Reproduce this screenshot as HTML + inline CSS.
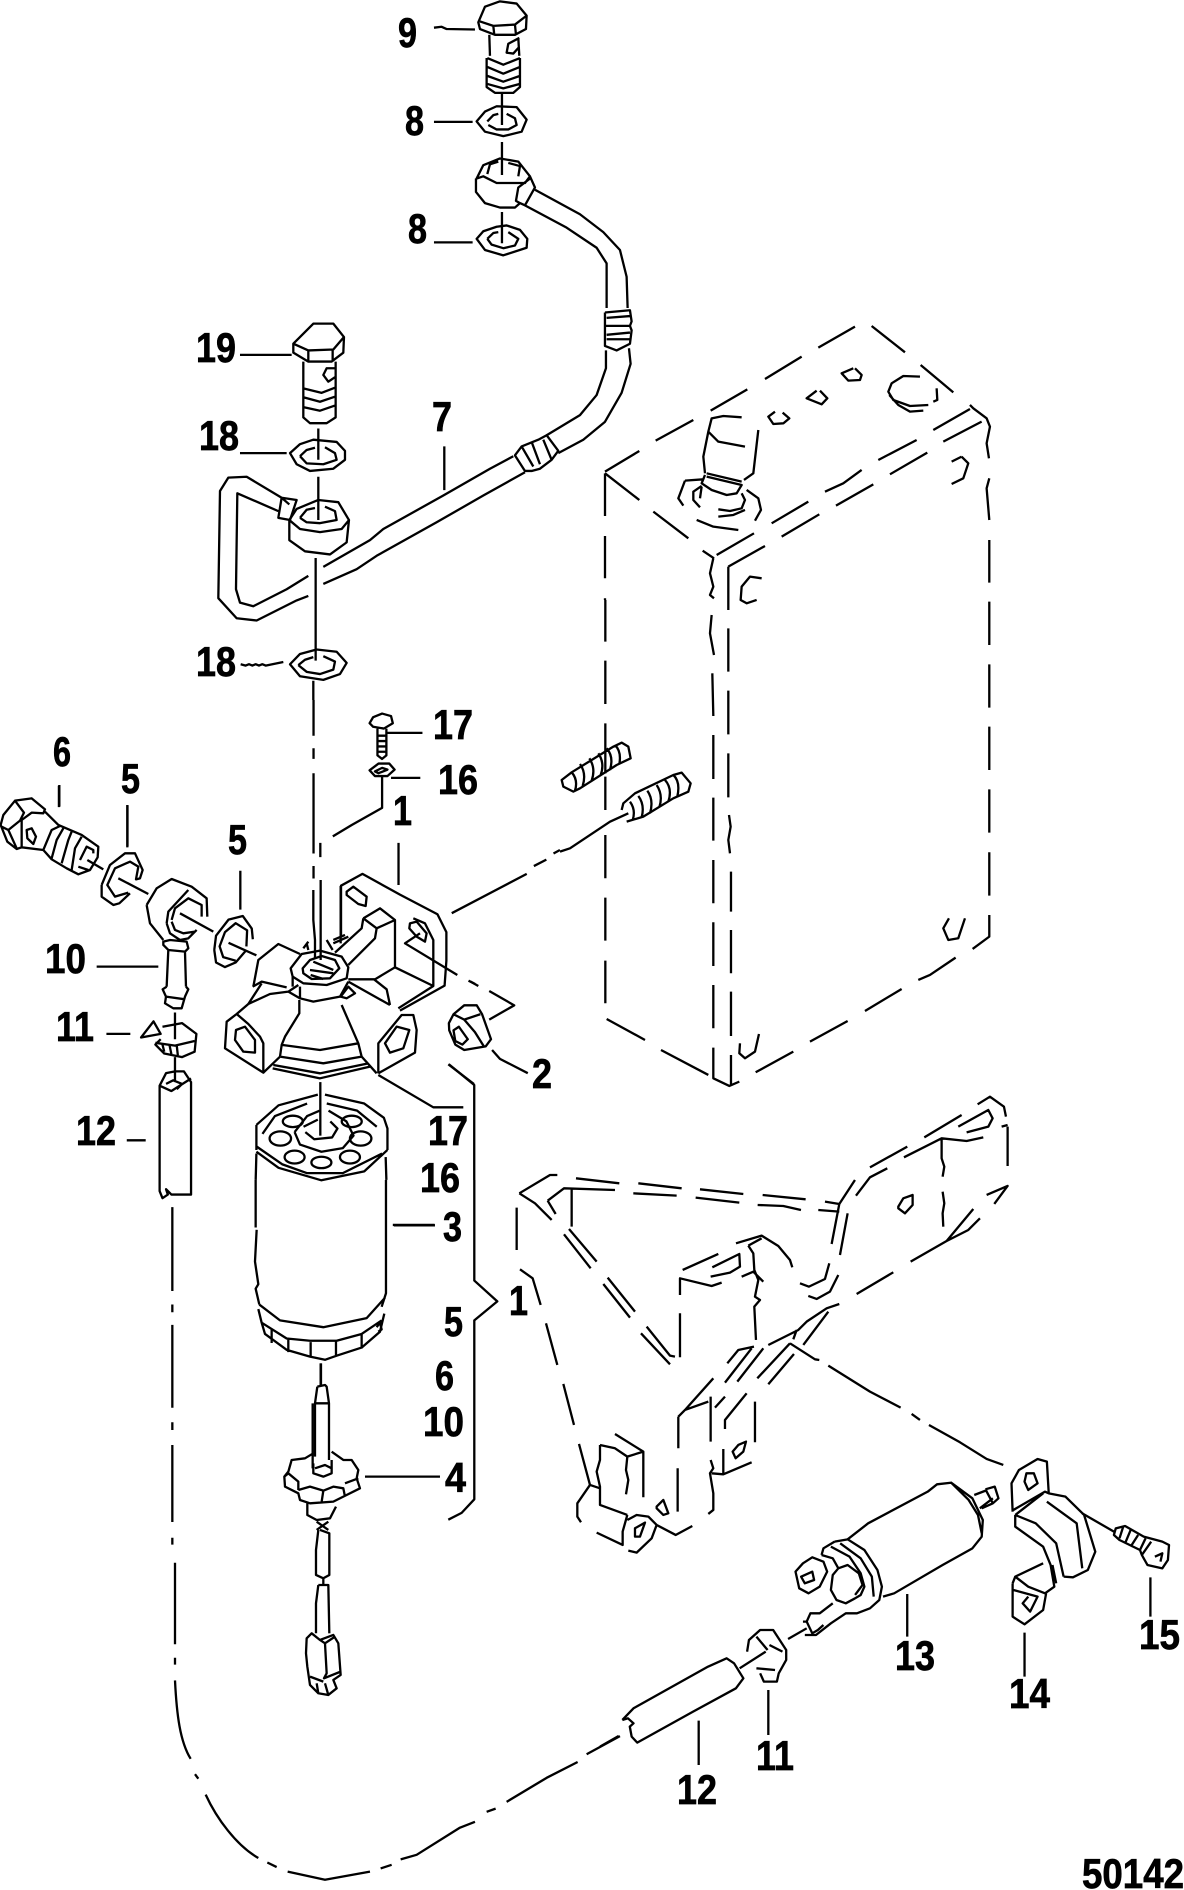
<!DOCTYPE html>
<html><head><meta charset="utf-8"><style>
html,body{margin:0;padding:0;background:#fff}
svg{display:block}
path,ellipse{fill:none;stroke:#000;stroke-width:2.3;stroke-linejoin:round;stroke-linecap:butt;vector-effect:non-scaling-stroke}
text{font-family:"Liberation Sans",Arial,sans-serif;font-weight:bold;font-size:42px;fill:#000;stroke:#000;stroke-width:.7px}
</style></head><body>
<svg width="1184" height="1890" viewBox="0 0 1184 1890" xmlns="http://www.w3.org/2000/svg">
<rect width="1184" height="1890" fill="#fff"/>

<g transform="translate(150,0) scale(0.3333,0.4464)">
<path d="M985 50L1005 15L1050 3L1100 8L1130 35L1128 65L1095 78L1035 78L990 65ZM990 48L1030 58L1095 55L1130 35M1030 58L1033 78M1095 55L1098 78"/>
<path d="M1018 78L1020 125M1105 85L1108 125M1010 130L1010 195L1035 208L1090 208L1110 195L1110 130M1012 130L1060 145L1110 130M1012 150L1060 165L1110 150M1012 170L1060 183L1110 170M1012 188L1060 198L1110 188M1108 85L1075 98L1070 118L1090 120L1108 105"/>
<path d="M1056 210V280M1056 318V392M1056 475V545M852 62L875 60L890 65L975 66M852 273H968M852 543H968"/>
<path d="M980 272L1005 250L1040 238L1100 240L1130 268L1115 295L1060 305L1005 295ZM1012 272L1030 258L1045 255M1070 255L1095 265L1100 280L1075 290L1040 290L1015 280"/>
<path d="M980 400L1000 370L1050 355L1105 362L1140 395L1125 410L1100 410L1040 410L1000 395ZM1012 390L1020 368L1045 362M1075 365L1110 372L1105 395M978 400L978 430L1005 455L1050 465L1095 465L1110 455M1140 395L1155 420L1125 460L1110 455L1098 450L1105 420L1140 400"/>
<path d="M980 535L1000 518L1040 508L1070 505L1110 515L1132 535L1130 555L1060 572L1005 560ZM1012 535L1030 522L1045 520M1075 520L1105 535L1095 550L1060 556L1025 548L1012 535"/>
<path d="M1155 425L1290 480L1360 520L1410 560L1430 620L1433 690M1125 460L1250 510L1340 555L1370 590L1370 690"/>
<path d="M1365 700L1440 695L1445 720L1440 730L1365 730M1365 700V775L1400 785L1440 770L1445 740L1440 730M1370 712L1440 708M1370 750L1440 745M1370 760L1440 760"/>
<path d="M1368 785L1368 825L1340 885L1290 930L1190 975M1437 780L1442 815L1415 880L1365 945L1300 985L1225 1015"/>
<path d="M1190 975L1225 1010L1205 1030L1170 1050L1145 1055L1125 1055L1095 1020L1115 1000L1165 985ZM1115 1000L1150 1045M1145 990L1170 1040M1180 985L1205 1030"/>
<path d="M1090 1022L1020 1050L880 1110L700 1185L660 1210L520 1270M1125 1058L1000 1110L860 1170L680 1245L620 1275L520 1308M883 1000V1098"/>
<path d="M430 770L490 725L550 725L582 755L580 790L545 810L475 810L430 790ZM430 770L475 785L550 783L582 755M475 785V810M548 783V810M460 810L460 935L480 948L530 948L557 935L557 810M555 825L530 825L520 840L535 855L555 845M460 870L515 880L557 868M460 890L510 900L557 888M460 912L510 920L557 908"/>
<path d="M505 960V1030M505 1068V1165M497 1250V1480M490 1525V1568M270 795H425M270 1015H410"/>
<path d="M420 1015L450 995L490 985L560 990L585 1010L585 1030L550 1050L480 1055L440 1040ZM450 1022L470 1008L495 1003M525 1002L555 1015L560 1030L520 1040L470 1038L450 1022"/>
<path d="M418 1165L440 1140L505 1120L565 1125L597 1165L575 1185L510 1192L450 1185ZM450 1160L470 1142L495 1138M525 1135L555 1145L560 1165L510 1172L470 1170L450 1160M418 1165V1210L465 1235L540 1242L590 1215L597 1165"/>
<path d="M418 1130L395 1115L290 1068L235 1070L210 1100L205 1340L260 1385L320 1390L440 1345L475 1335M385 1145L262 1105L258 1320L270 1350L310 1358L410 1320L475 1290M395 1115L440 1120L420 1165L385 1160Z"/>
<path d="M272 1488l15 3l10-3l10 3l10-3l10 3l10-3l10 3L400 1483"/>
<path d="M420 1488L450 1465L500 1455L560 1460L590 1485L570 1510L520 1523L450 1515ZM445 1490L465 1478L490 1472M520 1470L555 1482L550 1500L510 1510L470 1505L445 1490"/>
</g>

<g transform="translate(0,700) scale(0.3571)">
<path d="M878 0V100M878 135V165M878 205V430M878 465V500M897 400V440"/>
<path d="M1035 65L1045 48L1070 38L1095 45L1100 65L1075 80L1045 75ZM1057 80V155L1070 165L1082 155V80M1057 100H1082M1057 115H1082M1057 130H1082M1057 145H1082M1085 92H1183"/>
<path d="M1035 197L1060 178L1090 178L1105 195L1085 213L1050 213ZM1050 200L1070 190L1085 195L1060 205ZM1095 218H1177M1070 215V302L985 350L932 382M1116 400V518"/>
<path d="M165 240V300M357 295V410M673 478V587"/>
<path d="M600 700L605 660L640 615L680 605L705 640L708 670M690 690L692 645L660 625L630 650L615 690L625 720L660 730M600 700L605 735L630 748L660 735L690 700M640 680L718 715"/>
<path d="M955 665L955 520L1015 487L1120 545L1225 600L1250 650L1250 730L1245 800L1120 870M1265 597L1475 487M1495 465L1530 447M1550 430L1568 420"/>
<path d="M1257 905L1270 880L1300 855L1335 855L1350 880L1375 950L1360 970L1300 980L1275 965L1258 925ZM1270 880L1300 895L1345 880M1300 895L1330 930L1355 970M1270 925L1285 915L1310 950L1295 965L1275 955Z"/>
<path d="M1370 895L1440 855L1370 815M1330 795L1312 786M1378 980L1400 1005L1478 1045"/>
<path d="M897 1070V1220"/>
<path d="M718 1190L780 1135L890 1105M910 1105L1020 1130L1075 1170L1085 1200L1085 1260M718 1190L718 1260M718 1270L716 1344M1080 1280L1082 1344M718 1265L780 1310L900 1345L1020 1320L1085 1260M735 1215L770 1165L860 1130M915 1130L1000 1150L1055 1195M718 1250L790 1300L860 1325L960 1325L1070 1270"/>
<ellipse cx="820" cy="1180" rx="28" ry="16"/><ellipse cx="985" cy="1180" rx="28" ry="16"/><ellipse cx="785" cy="1228" rx="30" ry="20"/><ellipse cx="1010" cy="1228" rx="30" ry="20"/><ellipse cx="825" cy="1280" rx="28" ry="18"/><ellipse cx="900" cy="1295" rx="28" ry="16"/><ellipse cx="980" cy="1280" rx="28" ry="18"/>
<path d="M825 1210L860 1165L895 1150M920 1150L970 1180L990 1220L960 1255L900 1265L840 1245L825 1210M850 1195L890 1175M925 1180L945 1200L930 1225L880 1230L855 1210"/>
<path d="M395 945L430 900L450 935ZM455 915L510 905L550 935L545 985L510 1000L460 990L435 965L450 950M435 960L490 968L545 955M455 965L460 985M475 968L480 992M495 968L498 995"/>
<path d="M490 875V950M490 1000V1070M298 935H365M447 1080L465 1045L490 1040L515 1040L535 1070V1385L480 1385L465 1370L470 1385L455 1395L447 1375ZM447 1080L480 1095L535 1060M465 1075L485 1065L510 1075L495 1090M355 1233H408M1100 1470H1217M1257 1020L1328 1078V1344"/>
</g>

<g transform="translate(0,770) scale(0.3333)">
<path d="M178 45V110M382 105V232"/>
<path d="M2 165L10 135L45 92L95 85L135 118L130 130L95 128L65 150L65 232L50 237L22 215ZM45 92L72 128L60 152L25 180L5 170M25 180L50 235M80 180L95 175L108 200L100 222L82 205ZM65 232L130 240"/>
<path d="M135 125L175 165L210 180L245 195L295 230L293 262L270 300L235 313L200 295L155 268L130 240M130 240L155 180L180 168M155 265L170 210L190 175M185 280L205 210L215 185M215 300L225 235L245 200M240 270L260 230L280 240L280 250M235 290L265 300"/>
<path d="M262 270L310 298M355 325L445 372M305 345L330 285L375 250L405 250L428 300L420 325L408 328L415 290L390 275L345 295L322 345L345 380L385 368M305 345L305 380L340 405L358 400L390 370"/>
<path d="M440 405L470 355L515 327L575 350L620 385L622 440M440 405L450 460L490 510M500 460L505 425L565 360M515 450L525 415L565 385L605 405L605 440M515 455L525 480L550 490L585 485M500 460L510 490L540 510L565 505L590 480M540 430L640 485"/>
<path d="M490 525L490 515L510 510L560 515L565 535L555 545L505 540ZM505 540L500 650M555 545L558 650M500 650L488 658L498 680L495 700L520 715L545 715L555 680L565 658L558 650M498 680L555 688M290 590H475"/>
</g>

<g transform="translate(220,880) scale(0.3333)">
<path d="M362 190V18M380 35L400 20L440 50L437 78L415 72L380 45Z"/>
<path d="M430 115L480 85L525 120V262L465 298L385 298M430 115L470 145L525 120M430 115L425 145L345 218M470 145L465 175L385 255M525 262L640 318V180L615 130L580 115M640 318L535 385M462 298L500 328L510 375M385 305L510 375"/>
<path d="M570 130L590 125L620 160L615 185L590 170L568 145ZM600 160L555 190L712 285M752 305L775 318"/>
<path d="M340 180L375 165M340 190L385 170M250 205L265 185M260 190L265 210M320 180L338 210"/>
<path d="M212 265L245 222L300 212L365 230L385 262L380 295L320 315L250 310L218 290ZM248 265L270 240L305 228L345 240L358 265L330 295L275 297L250 280ZM270 270L340 280M280 245L340 270M272 285L310 297"/>
<path d="M302 0V240M280 30V120L285 180L285 235M218 290V320M240 320V355L280 365L360 350L385 305"/>
<path d="M100 320L115 240L175 192L240 222M98 320L125 305L200 322M85 372L125 310M85 372L150 342L205 335L240 355M205 335L235 315"/>
<path d="M50 402L20 425L15 505L130 578V490L120 470L85 432L50 402M85 372L50 402M48 450L75 440L105 480L105 518L70 515L45 480Z"/>
<path d="M238 360V400L195 470L185 495L180 530M365 375L415 490L425 530M188 495L300 510L415 490M180 530L310 550L425 530M160 555L300 580L445 550M158 565L300 595L450 560M130 578L180 530M425 530L470 580M362 350L385 320L405 340L380 355Z"/>
<path d="M475 580V490L545 405L580 405L590 450L585 518L475 580M495 490L530 440L568 450L550 505L510 518ZM475 585L640 682H730M685 553L762 612"/>
</g>

<g transform="translate(140,1180) scale(0.3333,0.4529)">
<path d="M347 0V105M350 110L345 180L355 230L347 240L358 275M738 0V250L725 280M358 275L420 310L550 325L680 305L735 260"/>
<path d="M355 285L365 315L375 340L440 375L510 390L555 397L590 388L665 370L720 335L733 295M365 315L440 350L510 355L590 355L665 340L725 310M395 330V360M445 350V380M512 358V390M588 355V388M665 340V372M710 325L720 315L725 330L715 335"/>
<path d="M762 100H885M543 405V455M1003 0V222L1072 268L1003 310V705L965 735L925 750"/>
<path d="M97 60V245M97 275V292M97 320V503M97 535V552M97 585V755M97 790V805M105 845V1025M105 1055V1070M105 1105C110 1180 120 1240 152 1278M165 1312L175 1322M197 1357C230 1410 290 1470 355 1497M382 1507L410 1517M443 1527L555 1545L690 1527M722 1520L755 1512M782 1500L830 1490L960 1430L1005 1417M1040 1395L1067 1388M1100 1373L1220 1320L1313 1285M1340 1268L1440 1228"/>
</g>

<g transform="translate(230,1260) scale(0.3333)">
<path d="M272 310V375M262 380L285 375L290 380L297 430V600M262 380L255 430V590M255 430H297M248 430V625M250 610V640L280 650L305 640V600M255 625L285 615L305 625"/>
<path d="M250 580L225 595L185 600L175 635L163 650L165 680L205 700L210 720L240 730L310 725L340 710L390 685L380 655L385 630L365 600L340 600L305 575M163 650L175 640L205 665L205 690M205 690L240 680L280 692L310 680L340 685L345 710M280 692L275 725M345 670L385 655M232 730V765L260 780L300 775L318 740"/>
<path d="M260 785L295 810M295 785L260 810M265 810L258 870V945L280 955L298 945V820L270 810M280 955V975M265 975L258 1030V1120M265 975H295L298 1120"/>
<path d="M230 1135L245 1120L270 1140L310 1125L325 1150L332 1245L310 1260L320 1285L295 1305L265 1300L240 1275L232 1220L228 1180ZM270 1140L285 1150L290 1240L282 1255L332 1235M285 1150L315 1130M240 1250L280 1265M260 1270L265 1300M285 1270L295 1305M405 650H630"/>
</g>

<g transform="translate(590,310) scale(0.3333)">
<path d="M45 485L148 423M197 392L310 330M362 302L472 238M525 207L635 140M685 113L795 50M845 48L945 127M992 165L1090 247M45 490L148 570M190 605L295 685M338 722L372 745M380 735L492 670M545 640L655 575M705 545L760 520L815 480M865 450L980 390M1030 360L1140 297M415 770L525 708M575 680L688 613M738 587L850 523M900 493L1012 428M1060 395L1175 335"/>
<path d="M1140 285L1150 295L1190 325L1200 350L1190 400L1197 445M370 745L360 790L370 830L360 855L372 865M415 770V870M45 490V618M45 678V805M45 865V870M1198 505L1190 535L1198 630M1198 690V818"/>
<path d="M515 805L480 800L455 830L452 870L470 880L500 870M1115 440L1135 460L1120 505L1085 522M1115 440L1085 455M555 305L535 320L550 342L580 340L598 325L578 308M680 242L650 265L695 283L712 265L690 242M790 175L755 190L775 212L810 210L815 195L795 175"/>
<path d="M990 200L940 198L905 220L895 245L910 270L960 288L1015 285M1040 235L1042 270L1030 275M898 255L925 285L960 305L1000 302"/>
<path d="M455 322L400 318L365 325L355 365L340 440L345 490M505 360L490 490L462 510M355 365L385 395L465 410M345 495L335 520L365 540L410 555L440 550L455 525L350 500M350 490L455 515M285 512L265 565L280 587M285 512L340 508M335 528L310 545L310 570L330 592M335 530L330 565M385 598L420 603L455 595L465 570L455 550M385 620L430 615L465 600M470 540L505 565L513 600L495 632M320 630L370 650L445 660"/>
</g>

<g transform="translate(560,600) scale(0.3333)">
<path d="M136 0V125M136 182V312M136 370V520M136 530V630M136 705V835M136 893V1022M136 1082V1210"/>
<path d="M455 45L450 100L462 165M457 220L460 348M460 405V537M460 593V722M460 780V910M460 967V1098M460 1155V1285M460 1343V1435L508 1458L538 1445"/>
<path d="M505 0V30M505 85V215M505 272V403M505 460V592M507 645L512 680L505 720L510 760M513 815V935M513 990V1120M513 1175V1308M513 1365V1458"/>
<path d="M1288 5V135M1288 193V323M1288 380V510M1288 568V698M1288 757V887M1288 945V1010L1238 1047"/>
<path d="M140 1257L255 1320M303 1350L445 1425M587 1417L700 1355M750 1325L863 1263M915 1233L1025 1167M1075 1140L1110 1125L1187 1073M1167 955L1150 985L1165 1020L1195 1015L1215 955M540 1330L538 1360L555 1375L585 1355L597 1302"/>
<path d="M5 540L35 517L160 440L185 428L205 440L212 475L170 495L60 565L40 575L10 560ZM35 517Q55 540 45 572M60 492Q80 520 68 558M88 475Q108 505 95 542M115 460Q135 490 122 525M140 445Q162 470 150 510M165 435Q185 455 178 492"/>
<path d="M185 630L190 610L225 580L340 525L365 518L392 550L385 575L340 595L250 650L200 665M210 605Q228 630 218 660M235 588Q255 615 245 652M262 572Q282 600 270 640M290 555Q310 585 298 622M315 540Q338 565 325 605M340 525Q362 545 352 590"/>
<path d="M0 755L30 745L150 665L205 640"/>
</g>

<g transform="translate(500,1080) scale(0.3333)">
<path d="M58 340L150 285L172 285M58 340L105 370L155 420M143 362L192 325L345 330M143 362L167 402M228 295L358 310M215 325V440M415 310L545 325M400 340L530 347M600 328L730 342M587 353L718 368M788 345L917 358M773 375L850 378L903 390M955 390L1018 395M975 365L1018 372L995 492M1018 372L1065 300M1043 400L1020 525"/>
<path d="M1110 262L1222 200M1068 347L1110 292L1162 265M1212 232L1325 175L1400 183L1450 172M1273 172L1385 105M1375 140L1465 90L1478 115L1465 140L1400 157M1433 73L1470 50L1512 80L1518 110M1523 140V258M1505 140L1523 135M1325 175V235L1333 260L1328 290M1328 335L1333 370L1328 400L1330 440M1195 380L1210 355L1238 345L1238 375L1215 400L1195 385ZM1460 345L1523 318L1483 372M1340 483L1420 387M1340 483L1405 450L1440 415M1232 545L1340 483M1070 642L1180 577"/>
<path d="M50 383V510M60 568L98 595L122 675M138 730L172 855M190 912L222 1035M237 1092L270 1215"/>
<path d="M192 463L272 565M207 447L290 545M310 612L390 713M323 593L405 695M423 760L510 853M440 740L510 827L525 830M540 700V832"/>
<path d="M540 645V595L635 618L665 608M548 570L655 522M637 562L718 522L720 560L690 578L632 590M708 490L785 467L835 498L870 540L877 562M745 497L785 475M745 497L760 520L763 570L775 600L765 650L780 660L763 680L768 780M725 590L760 575L790 605"/>
<path d="M900 610L927 620L975 597L988 550M925 648L950 657L990 635L1015 585"/>
<path d="M1018 672L980 685L920 725L895 750L805 795M985 695L910 795M870 790L772 895M882 822L805 913M870 790L945 838L958 840M890 750L880 778"/>
<path d="M762 800L715 810L682 850M755 805L675 908M790 805L712 905M640 895L555 990L625 965M535 1010V1105M555 990L535 1010M632 950V1085M675 950L645 983M740 940L675 1020V1047M765 965V1087M715 1095L738 1085L730 1115L707 1135L698 1115ZM670 1107V1183L635 1180M670 1183L755 1147M632 1140L640 1165L630 1180L640 1240L640 1290L625 1302"/>
<path d="M345 1062L430 1115V1252M300 1095L345 1105L382 1130L430 1115M382 1130L378 1170L385 1200L378 1243M300 1095V1140L290 1175L300 1220V1275L382 1305M270 1215L232 1270V1310L243 1327M270 1215L300 1225M470 1280L490 1260L505 1300L490 1305L470 1285ZM533 1165V1295"/>
<path d="M382 1305L368 1355V1395L290 1358M382 1320L410 1305L445 1310L470 1335L455 1375L410 1418L385 1412M405 1345L435 1328L420 1370L405 1370ZM470 1335L527 1365L577 1338"/>
<path d="M985 857L1110 935L1202 983M1235 1002L1260 1020M1287 1035L1380 1087L1460 1137L1510 1155"/>
</g>

<g transform="translate(600,1440) scale(0.3724,0.3333)">
<path d="M665 298L720 250L880 155L905 133L945 128M943 128L1000 175L1028 240L1025 290L1000 325L920 375L790 460L760 470M943 128L990 180L1015 225L1025 280M1020 205L1055 175M1005 165L1040 150M1035 148L1060 140L1070 175L1055 190L1035 148M1025 205L1055 190"/>
<path d="M630 305L665 298L710 330L745 390L757 440L750 480L725 505L690 520L660 520L620 550L580 585L550 585M630 305L600 325L595 345M645 310L700 355L730 410L735 470M620 320L670 350L700 400L710 440L700 465L685 475M595 345L625 355L640 385L625 405L620 450L635 480L660 490L685 475M640 385L665 375L695 400L705 435L685 465"/>
<path d="M525 395L545 370L570 352L600 365L610 395L590 440L560 460L535 445ZM540 410L570 395L575 420L550 430ZM625 490L590 520L565 520L555 545L570 580L585 570L600 555M545 545L555 545M505 597L555 565"/>
<path d="M395 635L400 600L430 570L465 570L500 630L500 660L480 700L475 725L440 725L430 700M420 590L450 630M455 615L490 635M420 685L470 690M375 685L445 635"/>
<path d="M60 840L90 805L290 680L340 655L360 670L385 715L365 745L250 815L100 908L85 890L80 860L90 850L75 835L60 840"/>
<path d="M825 462V590M265 842V975M452 750V885M1140 578V710M1478 412V530M50 888L0 920"/>
<path d="M1108 215L1105 130L1125 90L1175 57L1200 65L1205 160L1195 155L1110 210M1205 160L1250 170L1300 225L1330 335L1310 390L1270 412L1245 410M1145 100L1165 100L1175 130L1150 150L1140 125ZM1115 225L1190 160M1115 225L1115 260L1190 320L1210 375L1220 440L1195 460L1150 440L1115 410L1190 370M1115 225L1170 250L1225 310L1245 410M1200 185L1280 250L1295 385M1108 430L1115 410M1108 430V530L1140 553L1190 510L1198 460M1110 450L1175 470L1155 515L1135 490L1150 470M1215 375L1225 430"/>
<path d="M1295 220L1380 275M1385 265L1410 258L1460 290L1510 305L1528 315L1525 360L1510 385L1470 375L1455 345L1450 330L1395 300L1380 285ZM1405 260L1395 295M1425 270L1410 310M1445 285L1425 320M1465 295L1450 330M1480 305L1455 345M1490 350L1510 340L1505 365"/>
</g>

<g>
<text x="398" y="47" textLength="19" lengthAdjust="spacingAndGlyphs">9</text>
<text x="405" y="135" textLength="19" lengthAdjust="spacingAndGlyphs">8</text>
<text x="408" y="243" textLength="19" lengthAdjust="spacingAndGlyphs">8</text>
<text x="196" y="362" textLength="40" lengthAdjust="spacingAndGlyphs">19</text>
<text x="199" y="450" textLength="40" lengthAdjust="spacingAndGlyphs">18</text>
<text x="432" y="431" textLength="20" lengthAdjust="spacingAndGlyphs">7</text>
<text x="196" y="676" textLength="40" lengthAdjust="spacingAndGlyphs">18</text>
<text x="53" y="766" textLength="18" lengthAdjust="spacingAndGlyphs">6</text>
<text x="121" y="793" textLength="19" lengthAdjust="spacingAndGlyphs">5</text>
<text x="228" y="854" textLength="19" lengthAdjust="spacingAndGlyphs">5</text>
<text x="433" y="739" textLength="40" lengthAdjust="spacingAndGlyphs">17</text>
<text x="438" y="794" textLength="40" lengthAdjust="spacingAndGlyphs">16</text>
<text x="393" y="825" textLength="19" lengthAdjust="spacingAndGlyphs">1</text>
<text x="45" y="973" textLength="41" lengthAdjust="spacingAndGlyphs">10</text>
<text x="56" y="1041" textLength="38" lengthAdjust="spacingAndGlyphs">11</text>
<text x="76" y="1145" textLength="40" lengthAdjust="spacingAndGlyphs">12</text>
<text x="532" y="1088" textLength="20" lengthAdjust="spacingAndGlyphs">2</text>
<text x="428" y="1145" textLength="40" lengthAdjust="spacingAndGlyphs">17</text>
<text x="420" y="1192" textLength="40" lengthAdjust="spacingAndGlyphs">16</text>
<text x="443" y="1241" textLength="19" lengthAdjust="spacingAndGlyphs">3</text>
<text x="444" y="1336" textLength="19" lengthAdjust="spacingAndGlyphs">5</text>
<text x="435" y="1390" textLength="19" lengthAdjust="spacingAndGlyphs">6</text>
<text x="423" y="1436" textLength="41" lengthAdjust="spacingAndGlyphs">10</text>
<text x="445" y="1492" textLength="21" lengthAdjust="spacingAndGlyphs">4</text>
<text x="509" y="1315" textLength="19" lengthAdjust="spacingAndGlyphs">1</text>
<text x="895" y="1670" textLength="40" lengthAdjust="spacingAndGlyphs">13</text>
<text x="1009" y="1708" textLength="41" lengthAdjust="spacingAndGlyphs">14</text>
<text x="1139" y="1649" textLength="41" lengthAdjust="spacingAndGlyphs">15</text>
<text x="677" y="1804" textLength="40" lengthAdjust="spacingAndGlyphs">12</text>
<text x="756" y="1770" textLength="38" lengthAdjust="spacingAndGlyphs">11</text>
<text x="1082" y="1888" textLength="102" lengthAdjust="spacingAndGlyphs">50142</text>
</g>
</svg>
</body></html>
